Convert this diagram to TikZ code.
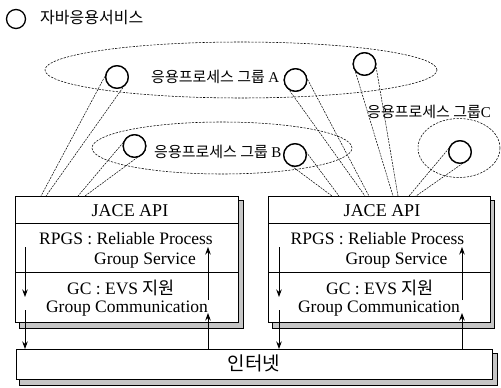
\documentclass[tikz,border=0pt]{standalone}
\usepackage{fontspec}
\setmainfont{Liberation Serif}
\newfontfamily\kr{Noto Sans CJK KR}
\usetikzlibrary{calc,arrows.meta}
\begin{document}
\begin{tikzpicture}[x=1pt,y=-1pt,
  grp/.style={draw, dash pattern=on 2.2pt off 1.3pt, line width=0.55pt},
  beam/.style={draw, dash pattern=on 2pt off 1pt, line width=0.5pt},
  svc/.style={circle, draw, line width=1.3pt, fill=white, minimum size=22.5pt, inner sep=0pt},
  flow/.style={-{Stealth[length=7.5pt,width=5.5pt]}, line width=0.75pt},
  lbl/.style={font=\kr\fontsize{15}{18}\selectfont, inner sep=0pt},
  txt/.style={font=\fontsize{17.5}{20}\selectfont, inner sep=0pt},
  layer/.style={draw, fill=white, line width=0.8pt, inner sep=0pt, anchor=north west},
  shade/.style={draw, fill=gray!45, line width=0.5pt},
]
\useasboundingbox (0,0) rectangle (501,388);

% legend
\node[svc, minimum size=19pt] (leg) at (16,19) {};
\node[font=\kr\fontsize{16}{19}\selectfont, anchor=west, inner sep=0pt] (legt) at (40,18) {자바응용서비스};

% process groups
\draw[grp] (241,70) ellipse [x radius=196pt, y radius=28pt];
\draw[grp] (222,148) ellipse [x radius=130pt, y radius=26pt];
\draw[grp] (459,148) ellipse [x radius=41pt, y radius=29.5pt];

% service circles
\node[svc] (a1) at (117,77) {};
\node[svc] (a2) at (295.5,80) {};
\node[svc] (a3) at (364.5,64) {};
\node[svc] (b1) at (134.5,146) {};
\node[svc] (b2) at (295,155) {};
\node[svc] (c1) at (460,152) {};

% beam feet on the API layer
\coordinate (a1l) at (41,196);  \coordinate (a1r) at (46,196);
\coordinate (b1l) at (78,196);  \coordinate (b1r) at (85,196);
\coordinate (b2l) at (332,196); \coordinate (b2r) at (339,196);
\coordinate (a2l) at (365,196); \coordinate (a2r) at (369,196);
\coordinate (a3l) at (393,196); \coordinate (a3r) at (398,196);
\coordinate (c1l) at (409,196); \coordinate (c1r) at (416,196);

\foreach \s in {a1,b1,b2,a2,a3,c1}{
  \draw[beam] ($(\s.center)!11pt!-90:(\s l)$) -- (\s l);
  \draw[beam] ($(\s.center)!11pt!90:(\s r)$) -- (\s r);
}
\foreach \s in {a1,a2,a3,b1,b2,c1}{
  \node[svc] at (\s) {};
}

% group labels
\node[lbl, anchor=west] (la) at (151,77) {응용프로세스 그룹 {\rmfamily A}};
\node[lbl, anchor=west] (lb) at (154,152) {응용프로세스 그룹 {\rmfamily B}};
\node[lbl, anchor=west] (lc) at (367,112) {응용프로세스 그룹{\rmfamily C}};

% left protocol stack
\draw[shade] (19,200) rectangle (243,328);
\node[layer, minimum width=223pt, minimum height=126pt] (lbox) at (15,196) {};
\draw[line width=0.6pt] (15,223) -- (238,223);
\draw[line width=0.6pt] (15,272) -- (238,272);
\node[txt, font=\fontsize{18}{20}\selectfont] (lapi) at (130,211) {JACE API};
\node[txt] (lrp1) at (126,239) {RPGS : Reliable Process};
\node[txt] (lrp2) at (145,261) {Group Service};
\node[txt] (lgc1) at (121,288) {GC : EVS {\kr 지원}};
\node[txt] (lgc2) at (127,309) {Group Communication};

% right protocol stack
\draw[shade] (272,200) rectangle (494,328);
\node[layer, minimum width=222pt, minimum height=126pt] (rbox) at (268,196) {};
\draw[line width=0.6pt] (268,223) -- (490,223);
\draw[line width=0.6pt] (268,272) -- (490,272);
\node[txt, font=\fontsize{18}{20}\selectfont] (rapi) at (382,211) {JACE API};
\node[txt] (rrp1) at (377.5,239) {RPGS : Reliable Process};
\node[txt] (rrp2) at (396.5,261) {Group Service};
\node[txt] (rgc1) at (380,288) {GC : EVS {\kr 지원}};
\node[txt] (rgc2) at (379,309) {Group Communication};

% network
\draw[shade] (19,353) rectangle (497,385);
\node[layer, minimum width=476pt, minimum height=30pt] (net) at (16,349) {};
\node[font=\kr\fontsize{19}{22}\selectfont, inner sep=0pt] (nett) at (254,363) {인터넷};

% message flow
\draw[flow] (25,247) -- (25,297);
\draw[flow] (25,310) -- ({25},{0} |- net.north);
\draw[flow] ({208},{0} |- net.north) -- (208,313);
\draw[flow] (208,300) -- (208,247);
\draw[flow] (279,247) -- (279,297);
\draw[flow] (279,310) -- ({279},{0} |- net.north);
\draw[flow] ({462},{0} |- net.north) -- (462,313);
\draw[flow] (462,300) -- (462,247);
\end{tikzpicture}
\end{document}
